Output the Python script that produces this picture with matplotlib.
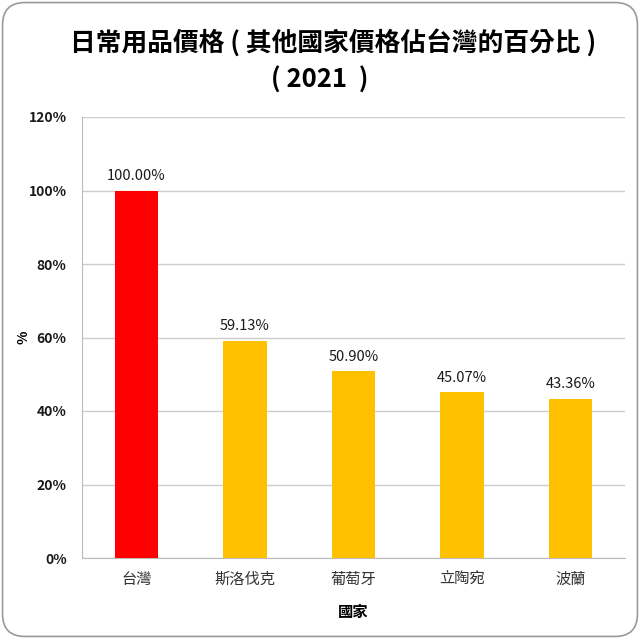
import matplotlib
matplotlib.use("Agg")
import matplotlib.pyplot as plt
from matplotlib.patches import FancyBboxPatch
from matplotlib.ticker import FuncFormatter

plt.rcParams['font.family'] = ['Noto Sans CJK TC', 'DejaVu Sans']

countries = ['台灣', '斯洛伐克', '葡萄牙', '立陶宛', '波蘭']
values = [100.00, 59.13, 50.90, 45.07, 43.36]
colors = ['#FF0000', '#FFC000', '#FFC000', '#FFC000', '#FFC000']

fig = plt.figure(figsize=(6.4, 6.39), dpi=100)

# rounded frame around the whole picture
frame = FancyBboxPatch((0.004, 0.004), 0.992, 0.992, boxstyle="round,pad=0,rounding_size=0.035",
                       transform=fig.transFigure, facecolor='white', edgecolor='#9a9a9a',
                       linewidth=1.2, zorder=-10)
fig.patches.append(frame)

ax = fig.add_axes([82 / 640, 1 - 558 / 639, 543 / 640, 441 / 639])
ax.set_facecolor('none')

x = range(len(countries))
bars = ax.bar(x, values, width=0.4, color=colors, zorder=3)
for b, v in zip(bars, values):
    ax.text(b.get_x() + b.get_width() / 2, v + 2.0, f'{v:.2f}%', ha='center', va='bottom',
            fontsize=10.5, color='#1a1a1a', fontweight='medium')

ax.set_xlim(-0.5, len(countries) - 0.5)
ax.set_ylim(0, 120)
ax.set_yticks(range(0, 121, 20))
ax.yaxis.set_major_formatter(FuncFormatter(lambda v, p: f'{int(v)}%'))
ax.set_xticks(list(x))
ax.set_xticklabels(countries, fontsize=11, color='#333333')
ax.tick_params(axis='y', length=0, pad=11, labelsize=10, labelcolor='#1a1a1a')
ax.tick_params(axis='x', length=0, pad=9)
for lab in ax.get_yticklabels():
    lab.set_fontweight('bold')

ax.grid(axis='y', color='#cccccc', linewidth=1, zorder=0)
for side in ['top', 'right']:
    ax.spines[side].set_visible(False)
for side in ['left', 'bottom']:
    ax.spines[side].set_color('#bbbbbb')

ax.set_ylabel('%', fontsize=10, fontweight='bold')
ax.yaxis.set_label_coords(-52 / 543, 0.5)
ax.set_xlabel('國家', fontsize=11, fontweight='bold', labelpad=12)

fig.text(0.52, 1 - 43 / 639, '日常用品價格 ( 其他國家價格佔台灣的百分比 )', ha='center', va='center',
         fontsize=18.5, fontweight='bold', color='#000000')
fig.text(0.5, 1 - 80 / 639, '( 2021  )', ha='center', va='center',
         fontsize=18.5, fontweight='bold', color='#000000')

fig.savefig('out.png', dpi=100)
